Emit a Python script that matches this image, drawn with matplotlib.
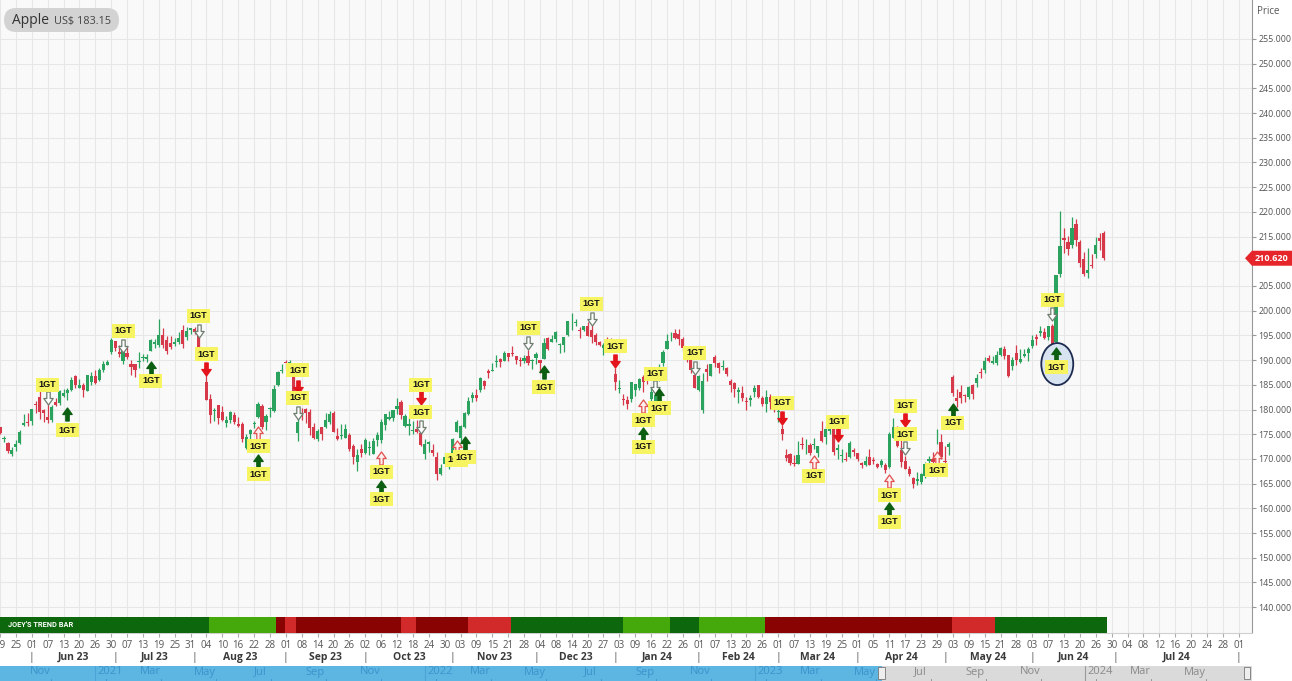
import matplotlib
matplotlib.use("Agg")
import matplotlib.pyplot as plt
import matplotlib.transforms as mtransforms
from matplotlib.patches import FancyBboxPatch, Ellipse, Rectangle, Polygon
from matplotlib.path import Path
from matplotlib.ticker import FuncFormatter
import numpy as np

plt.rcParams['font.family'] = ['Open Sans', 'DejaVu Sans']

# ---------------- data ----------------
ticker_name = "Apple"
ticker_quote = "US$ 183.15"
trend_title = "JOEY'S TREND BAR"

# daily OHLC, trading-day index 0 = 19 May 2023 ... 278 = 28 Jun 2024
opens = [
    176.39, 173.98, 173.13, 171.09, 172.41, 173.32, 176.96, 177.33, 177.70, 181.03,
    182.63, 179.97, 178.44, 177.90, 181.50, 181.27, 182.80, 183.37, 183.96, 186.73,
    184.41, 184.90, 183.74, 185.55, 186.83, 185.89, 187.93, 189.08, 191.63, 193.78,
    191.57, 189.84, 191.41, 189.26, 189.16, 189.68, 190.50, 190.23, 191.90, 193.35,
    193.10, 195.09, 194.10, 193.41, 193.33, 193.67, 196.02, 194.67, 196.06, 196.24,
    195.04, 191.57, 185.52, 182.13, 179.69, 180.87, 179.48, 177.32, 177.97, 178.88,
    177.13, 177.14, 172.30, 175.07, 177.06, 178.52, 180.67, 177.38, 180.09, 179.70,
    184.94, 187.84, 189.49, 188.28, 188.40, 175.18, 178.35, 180.07, 179.49, 176.51,
    174.00, 176.48, 176.48, 177.52, 179.26, 174.55, 174.67, 174.20, 174.82, 172.62,
    169.34, 172.02, 171.22, 172.26, 171.09, 173.79, 173.80, 176.81, 178.10, 178.20,
    180.07, 181.42, 176.75, 176.65, 175.58, 176.04, 175.31, 170.91, 173.05, 171.88,
    170.37, 166.91, 169.02, 169.35, 171.00, 175.52, 174.24, 176.38, 179.18, 182.35,
    182.96, 183.97, 185.82, 187.70, 187.85, 189.57, 190.25, 189.89, 191.41, 191.49,
    190.87, 189.92, 189.78, 190.90, 189.84, 190.33, 189.98, 190.21, 194.45, 193.63,
    194.20, 193.11, 193.08, 195.09, 198.02, 197.53, 196.09, 196.16, 196.90, 196.10,
    195.18, 193.61, 192.49, 194.14, 193.90, 187.15, 184.22, 182.15, 181.99, 182.09,
    183.92, 184.35, 186.54, 186.06, 182.16, 181.27, 186.09, 189.33, 192.30, 195.02,
    195.42, 195.22, 194.27, 192.01, 190.94, 187.04, 183.99, 179.86, 188.15, 186.86,
    190.64, 189.39, 188.65, 188.42, 185.77, 185.32, 183.55, 183.42, 181.79, 181.94,
    183.48, 185.01, 182.24, 181.10, 182.51, 181.27, 179.55, 176.15, 170.76, 171.06,
    169.15, 169.00, 172.94, 173.15, 172.77, 172.91, 171.17, 175.57, 174.34, 175.72,
    177.05, 171.76, 170.57, 170.00, 170.41, 171.75, 171.19, 169.08, 168.79, 170.29,
    169.59, 169.03, 168.70, 168.80, 168.34, 174.26, 175.36, 171.75, 169.61, 168.03,
    166.21, 165.52, 165.35, 166.54, 169.53, 169.88, 173.37, 173.33, 169.58, 172.51,
    186.65, 182.35, 183.45, 182.85, 182.56, 184.90, 185.44, 187.51, 187.91, 190.47,
    189.51, 189.33, 191.09, 192.27, 190.98, 188.82, 191.51, 189.61, 190.76, 191.44,
    192.90, 194.64, 195.40, 195.69, 194.65, 196.90, 193.65, 207.37, 214.74, 213.85,
    213.37, 217.59, 213.93, 210.39, 207.72, 209.15, 211.50, 214.69, 215.77,
]
highs = [
    176.39, 174.71, 173.38, 172.42, 173.90, 175.77, 178.99, 179.35, 180.12, 181.78,
    184.95, 180.12, 181.21, 180.84, 182.23, 183.89, 184.15, 184.39, 186.52, 186.99,
    186.10, 185.41, 187.05, 187.56, 188.05, 188.39, 189.90, 190.07, 194.48, 193.88,
    192.98, 192.02, 192.67, 189.99, 189.30, 191.70, 191.19, 191.18, 194.32, 194.33,
    198.23, 196.47, 194.97, 194.91, 194.44, 195.64, 197.20, 196.63, 196.49, 196.73,
    195.18, 192.37, 187.38, 183.13, 180.27, 180.93, 180.75, 178.62, 179.69, 179.48,
    178.54, 177.51, 175.10, 176.13, 177.68, 181.55, 181.10, 179.15, 180.59, 184.90,
    187.85, 189.12, 189.92, 189.98, 188.85, 178.21, 180.24, 180.30, 180.13, 177.30,
    176.10, 176.50, 179.38, 179.63, 179.70, 176.30, 177.08, 176.97, 175.20, 173.04,
    172.03, 173.07, 174.30, 173.63, 174.21, 175.45, 177.99, 179.05, 179.72, 179.85,
    182.34, 181.93, 179.08, 178.42, 177.58, 177.84, 175.42, 174.01, 173.67, 173.06,
    171.38, 168.96, 171.17, 170.90, 174.23, 177.78, 176.82, 179.43, 182.44, 183.45,
    184.12, 186.57, 186.03, 188.11, 189.50, 190.96, 190.38, 191.91, 191.52, 192.93,
    190.90, 190.67, 191.08, 192.09, 190.32, 191.56, 190.05, 194.40, 194.76, 195.00,
    195.99, 193.49, 194.72, 198.00, 199.62, 198.40, 196.63, 196.95, 197.68, 197.08,
    195.41, 193.89, 193.50, 194.66, 194.40, 188.44, 185.88, 183.09, 182.76, 185.60,
    185.15, 186.40, 187.05, 186.74, 184.26, 182.93, 189.14, 191.95, 195.33, 195.75,
    196.38, 196.27, 194.76, 192.20, 191.80, 187.10, 186.95, 187.33, 189.25, 189.31,
    191.05, 189.54, 189.99, 188.67, 186.21, 185.53, 184.49, 184.85, 182.43, 182.89,
    184.96, 185.04, 182.76, 183.92, 183.12, 182.57, 180.53, 176.90, 172.04, 171.24,
    170.73, 173.70, 174.38, 174.03, 173.19, 174.31, 172.62, 177.71, 176.61, 178.67,
    177.49, 173.05, 171.94, 171.42, 173.60, 172.23, 171.25, 169.34, 170.68, 171.92,
    170.39, 169.20, 170.08, 169.09, 175.46, 178.36, 176.63, 173.76, 170.65, 168.64,
    166.40, 167.26, 167.05, 169.30, 170.61, 171.34, 176.03, 174.99, 172.71, 173.42,
    187.00, 184.20, 184.90, 183.07, 184.66, 185.09, 187.10, 188.30, 190.65, 191.10,
    190.81, 191.92, 192.73, 192.82, 191.00, 190.58, 193.00, 192.25, 192.18, 192.57,
    194.99, 195.32, 196.90, 196.50, 196.94, 197.30, 207.16, 220.20, 216.75, 215.17,
    218.95, 218.63, 214.24, 211.89, 212.70, 211.38, 214.86, 215.74, 216.07,
]
lows = [
    174.94, 173.45, 171.28, 170.52, 171.69, 173.11, 176.57, 176.76, 176.93, 179.26,
    178.04, 177.43, 177.32, 177.46, 180.63, 180.97, 182.44, 182.02, 183.78, 184.27,
    184.41, 182.59, 183.67, 185.01, 185.23, 185.67, 187.60, 188.94, 191.26, 191.76,
    190.62, 189.20, 190.24, 187.04, 186.60, 188.47, 189.78, 189.63, 191.81, 192.42,
    192.65, 192.50, 191.23, 192.25, 192.92, 193.32, 192.55, 194.14, 195.26, 195.28,
    191.85, 190.69, 181.92, 177.35, 177.58, 177.01, 177.60, 176.55, 177.31, 177.05,
    176.50, 173.48, 171.96, 173.74, 176.25, 178.33, 176.01, 175.82, 178.55, 179.50,
    184.74, 187.48, 188.28, 187.61, 181.47, 173.54, 177.79, 177.34, 174.82, 173.98,
    173.58, 173.82, 176.17, 177.13, 175.40, 173.86, 174.05, 174.15, 171.66, 169.05,
    167.62, 170.34, 170.93, 170.82, 170.97, 172.68, 173.18, 175.80, 177.95, 177.60,
    179.04, 178.14, 176.51, 174.80, 175.11, 175.19, 172.64, 169.93, 171.45, 170.65,
    165.67, 166.83, 168.87, 167.90, 170.12, 175.46, 173.35, 176.21, 178.97, 181.59,
    181.81, 183.53, 184.21, 186.30, 187.78, 188.65, 188.57, 189.88, 189.74, 190.83,
    189.25, 188.90, 189.40, 188.97, 188.19, 189.23, 187.45, 190.18, 192.11, 193.59,
    193.67, 191.42, 191.72, 194.85, 196.16, 197.00, 194.39, 195.89, 194.83, 193.50,
    192.97, 192.83, 191.09, 193.17, 191.73, 183.89, 183.43, 180.88, 180.17, 181.50,
    182.73, 183.92, 183.62, 185.19, 180.93, 180.30, 185.83, 188.82, 192.26, 193.83,
    194.34, 193.11, 191.94, 189.58, 187.47, 184.35, 183.82, 179.25, 185.84, 186.77,
    188.61, 187.35, 188.00, 186.79, 183.51, 182.44, 181.35, 181.67, 180.00, 180.66,
    182.46, 182.23, 180.65, 179.56, 180.13, 179.53, 177.38, 173.79, 169.62, 168.68,
    168.49, 168.94, 172.05, 171.01, 170.76, 172.05, 170.29, 173.52, 173.03, 175.09,
    170.84, 170.06, 169.45, 169.58, 170.11, 170.51, 169.48, 168.23, 168.58, 168.82,
    168.95, 168.24, 168.35, 167.11, 168.16, 174.21, 172.50, 168.27, 168.00, 166.55,
    164.08, 164.77, 164.92, 166.21, 168.15, 169.18, 173.10, 170.00, 169.11, 170.89,
    182.66, 180.42, 181.32, 181.45, 182.11, 182.13, 184.62, 186.29, 187.37, 189.66,
    189.18, 189.01, 190.92, 190.27, 186.63, 188.04, 189.10, 189.51, 190.63, 189.91,
    192.52, 193.03, 194.87, 194.17, 194.14, 192.15, 193.63, 206.90, 211.60, 211.30,
    212.72, 213.00, 208.85, 207.11, 206.59, 208.61, 210.64, 212.35, 210.30,
]
closes = [
    175.16, 174.20, 171.56, 171.84, 172.99, 175.43, 177.30, 177.25, 180.09, 180.95,
    179.58, 179.21, 177.82, 180.57, 180.96, 183.79, 183.31, 183.95, 186.01, 184.92,
    185.01, 183.96, 187.00, 186.68, 185.27, 188.06, 189.25, 189.59, 193.97, 192.46,
    191.33, 191.81, 190.68, 188.61, 188.08, 189.77, 190.54, 190.69, 193.99, 193.73,
    195.10, 193.13, 191.94, 192.75, 193.62, 194.50, 193.22, 195.83, 196.45, 195.61,
    192.58, 191.17, 181.99, 178.85, 179.80, 178.19, 177.97, 177.79, 179.46, 177.45,
    176.57, 174.00, 174.49, 175.84, 177.23, 181.12, 176.38, 178.61, 180.19, 184.12,
    187.65, 187.87, 189.46, 189.70, 182.91, 177.56, 178.18, 179.36, 176.30, 174.21,
    175.74, 175.01, 177.97, 179.07, 175.49, 173.93, 174.79, 176.08, 171.96, 170.43,
    170.69, 171.21, 173.75, 172.40, 173.66, 174.91, 177.49, 178.99, 178.39, 179.80,
    180.71, 178.85, 178.72, 177.15, 175.84, 175.46, 172.88, 173.00, 173.44, 171.10,
    166.89, 168.22, 170.29, 170.77, 173.97, 177.57, 176.65, 179.23, 181.82, 182.89,
    182.41, 186.40, 184.80, 187.44, 188.01, 189.71, 189.69, 191.45, 190.64, 191.31,
    189.97, 189.79, 190.40, 189.37, 189.95, 191.24, 189.43, 193.42, 192.32, 194.27,
    195.71, 193.18, 194.71, 197.96, 198.11, 197.57, 195.89, 196.94, 194.83, 194.68,
    193.60, 193.05, 193.15, 193.58, 192.53, 185.64, 184.25, 181.91, 181.18, 185.56,
    185.14, 186.19, 185.59, 185.92, 183.63, 182.68, 188.63, 191.56, 193.89, 195.18,
    194.50, 194.17, 192.42, 191.73, 188.04, 184.40, 186.86, 185.85, 187.68, 189.30,
    189.41, 188.32, 188.85, 187.15, 185.04, 184.15, 183.86, 182.31, 181.56, 182.32,
    184.37, 182.52, 181.16, 182.63, 181.42, 180.75, 179.66, 175.10, 170.12, 169.12,
    169.00, 170.73, 172.75, 173.23, 171.13, 173.00, 172.62, 173.72, 176.08, 178.67,
    171.37, 172.28, 170.85, 169.71, 173.31, 171.48, 170.03, 168.84, 169.65, 168.82,
    169.58, 168.45, 169.67, 167.78, 175.04, 176.55, 172.69, 169.38, 168.00, 167.04,
    165.00, 165.84, 166.90, 169.02, 169.89, 169.30, 173.50, 170.33, 169.30, 173.03,
    183.38, 181.71, 182.40, 182.74, 184.57, 183.05, 186.28, 187.43, 189.72, 189.84,
    189.87, 191.04, 192.35, 190.90, 186.88, 189.98, 189.99, 190.29, 191.29, 192.25,
    194.03, 194.35, 195.87, 194.48, 196.89, 193.12, 207.15, 213.07, 214.24, 212.49,
    216.67, 214.29, 209.68, 207.49, 208.14, 209.07, 213.25, 214.10, 210.62,
]

# x-axis day labels, one every 4 trading days starting at index 0
tick_labels = ["19", "25", "01", "07", "13", "20", "26", "30", "07", "13", "19", "25", "31",
               "04", "10", "16", "22", "28", "01", "08", "14", "20", "26", "02", "06", "12",
               "18", "24", "30", "03", "09", "15", "21", "28", "04", "08", "14", "20", "27",
               "03", "09", "16", "22", "26", "01", "07", "13", "20", "26", "01", "07", "13",
               "19", "25", "01", "05", "11", "17", "23", "29", "03", "09", "15", "21", "28",
               "03", "07", "13", "20", "26", "30", "04", "08", "12", "16", "20", "24", "28", "01"]
month_names = ["Jun 23", "Jul 23", "Aug 23", "Sep 23", "Oct 23", "Nov 23", "Dec 23",
               "Jan 24", "Feb 24", "Mar 24", "Apr 24", "May 24", "Jun 24", "Jul 24"]
month_starts = [8, 29, 49, 72, 92, 114, 135, 155, 176, 196, 216, 238, 260, 281, 312]

# trend bar: segment edges (trading-day index) and state
trend_edges = [-2, 52.7, 69.6, 71.8, 74.6, 101.0, 104.8, 117.8, 128.7, 156.8,
               168.7, 176.0, 192.6, 239.9, 250.7, 278.8]
trend_states = ["strong_up", "up", "strong_down", "down", "strong_down", "down",
                "strong_down", "down", "strong_up", "up", "strong_up", "up",
                "strong_down", "down", "strong_up"]

# 1GT signals: (trading-day index, price level, kind)
signals = [
    (12, 184.96, "lbl"), (12, 182.33, "hdn"),
    (17, 179.09, "up"), (17, 175.85, "lbl"),
    (31, 195.89, "lbl"), (31, 192.85, "hdn"),
    (38, 188.40, "up"), (38, 185.77, "lbl"),
    (50, 198.93, "lbl"), (50, 195.89, "hdn"),
    (52, 191.23, "lbl"), (52, 188.20, "dn"),
    (65, 175.24, "hup"), (65, 172.61, "lbl"), (65, 169.57, "up"), (65, 166.94, "lbl"),
    (75, 187.99, "lbl"), (75, 184.55, "dn"), (75, 182.33, "lbl"), (75, 179.29, "hdn"),
    (96, 170.18, "hup"), (96, 167.35, "lbl"), (96, 164.31, "up"), (96, 161.88, "lbl"),
    (106, 184.96, "lbl"), (106, 182.33, "dn"), (106, 179.49, "lbl"), (106, 176.46, "hdn"),
    (115, 172.41, "hup"), (115, 169.78, "lbl"), (117, 173.22, "up"), (117, 170.38, "lbl"),
    (133, 196.50, "lbl"), (133, 193.46, "hdn"),
    (137, 187.59, "up"), (137, 184.55, "lbl"),
    (149, 201.36, "lbl"), (149, 198.32, "hdn"),
    (155, 192.85, "lbl"), (155, 189.82, "dn"),
    (162, 180.71, "hup"), (162, 177.87, "lbl"), (162, 175.04, "up"), (162, 172.41, "lbl"),
    (165, 187.19, "lbl"), (165, 184.55, "hdn"), (166, 182.94, "up"), (166, 180.30, "lbl"),
    (175, 191.44, "lbl"), (175, 188.40, "hdn"),
    (197, 181.32, "lbl"), (197, 178.28, "dn"),
    (205, 169.37, "hup"), (205, 166.54, "lbl"),
    (211, 177.47, "lbl"), (211, 174.84, "dn"),
    (224, 165.53, "hup"), (224, 162.69, "lbl"), (224, 159.86, "up"), (224, 157.23, "lbl"),
    (228, 180.71, "lbl"), (228, 177.87, "dn"), (228, 175.04, "lbl"), (228, 172.21, "hdn"),
    (236, 170.18, "hup"), (236, 167.75, "lbl"),
    (240, 179.90, "up"), (240, 177.27, "lbl"),
    (265, 202.17, "lbl"), (265, 199.33, "hdn"),
    (266, 191.23, "up"), (266, 188.60, "lbl"),
]
highlight_day, highlight_price = 266.3, 189.2

# navigator: month index counted from Jan 2021
nav_months = [-2, 0, 2, 4, 6, 8, 10, 12, 14, 16, 18, 20, 22, 24, 26, 28, 30, 32, 34, 36, 38, 40]
nav_labels = ["Nov", "2021", "Mar", "May", "Jul", "Sep", "Nov", "2022", "Mar", "May", "Jul",
              "Sep", "Nov", "2023", "Mar", "May", "Jul", "Sep", "Nov", "2024", "Mar", "May"]
nav_window_start = 28.6

# ---------------- style ----------------
W, H = 1292, 681
GREEN, RED = "#2ba35e", "#d63a4a"
TREND_COLORS = {"strong_up": "#0d670d", "up": "#46a90b", "strong_down": "#8a0303", "down": "#d22a2a"}

fig = plt.figure(figsize=(W / 100, H / 100), dpi=100, facecolor="white")
ax = fig.add_axes([0, 48 / H, 1252 / W, 633 / H])
ax.set_facecolor("#f9f9f9")

o = np.array(opens); h = np.array(highs); l = np.array(lows); c = np.array(closes)
n = len(c)
x = np.arange(n)
col = np.where(c >= o, GREEN, RED)
ax.vlines(x, l, h, colors=col, lw=0.9, zorder=2)
ax.bar(x, np.maximum(np.abs(c - o), 0.15), bottom=np.minimum(o, c), width=0.8,
       color=col, lw=0, zorder=2.1)

ax.set_xlim(1.5 / 3.975, 1253.5 / 3.975)
ax.set_ylim(134.76, 262.89)

ax.set_xticks([4 * i for i in range(len(tick_labels))])
ax.set_xticklabels(tick_labels)
ax.set_yticks(np.arange(140, 256, 5))
last = closes[-1]
ax.yaxis.set_major_formatter(FuncFormatter(lambda v, p: "" if abs(v - last) < 3 else f"{v:.3f}"))
ax.yaxis.tick_right()
ax.tick_params(axis="y", labelsize=6.4, labelcolor="#555555", length=3, color="#999999", pad=1.5)
ax.tick_params(axis="x", labelsize=7, labelcolor="#555555", length=3, color="#aaaaaa", pad=2)
ax.grid(True, color="#e7e7e7", lw=0.8)
ax.set_axisbelow(True)
for s in ["left", "top"]:
    ax.spines[s].set_visible(False)
ax.spines["right"].set_color("#999999")
ax.spines["bottom"].set_color("#d0d0d0")

# trend bar
bt = mtransforms.blended_transform_factory(ax.transData, ax.transAxes)
for i, st in enumerate(trend_states):
    ax.add_patch(Rectangle((trend_edges[i], 0), trend_edges[i + 1] - trend_edges[i], 0.0253,
                           transform=bt, fc=TREND_COLORS[st], ec="none", zorder=3))
ax.text(8 / 1252, 0.0126, trend_title, transform=ax.transAxes, color="white", fontsize=5.3,
        fontweight="bold", va="center", ha="left", family="Roboto", zorder=3.5)

# month row
for i, name in enumerate(month_names):
    ax.text((month_starts[i] + month_starts[i + 1]) / 2, -0.038, name, transform=bt,
            ha="center", va="center", fontsize=7.5, fontweight="bold", color="#3a3a3a",
            clip_on=False)
for d in month_starts:
    ax.text(d, -0.038, "|", transform=bt, ha="center", va="center", fontsize=7.5,
            color="#555555", clip_on=False)

# signals
up_path = Path([(-0.13, -0.5), (0.13, -0.5), (0.13, 0.0), (0.36, 0.0), (0, 0.5),
                (-0.36, 0.0), (-0.13, 0.0), (-0.13, -0.5)], closed=True)
dn_path = Path([(xx, -yy) for xx, yy in up_path.vertices], closed=True)
arrow_style = {
    "up": dict(marker=up_path, mfc="#0b5e12", mec="#0b5e12"),
    "dn": dict(marker=dn_path, mfc="#e3141b", mec="#e3141b"),
    "hdn": dict(marker=dn_path, mfc="#ffffff", mec="#6f7d6f"),
    "hup": dict(marker=up_path, mfc="#fff0f0", mec="#e0504f"),
}
ax.add_patch(Ellipse((highlight_day, highlight_price), 8.05, 8.5, fc="#d8e3f2",
                     ec="#1c2a4f", lw=1.3, zorder=4))
for d, p, k in signals:
    if k == "lbl":
        ax.text(d, p, "1GT", ha="center", va="center", fontsize=6.5, fontweight="bold",
                color="#111111", family="Liberation Sans", zorder=6,
                bbox=dict(boxstyle="square,pad=0.3", fc="#f7f462", ec="none"))
    else:
        ax.plot([d], [p], ls="none", ms=9.4, mew=0.9, zorder=5, **arrow_style[k])

# price axis title
fig.text(1257 / W, 1 - 11 / H, "Price", fontsize=7, color="#555555", ha="left", va="center")

# last price tag
yd = ax.transData.transform((0, last))[1]
fig.add_artist(Polygon([(1245, yd), (1252, yd + 7.5), (1292, yd + 7.5), (1292, yd - 7.5),
                        (1252, yd - 7.5)], closed=True, fc="#e5252a", ec="none",
                       transform=mtransforms.IdentityTransform(), zorder=10))
fig.text(1272 / W, yd / H, f"{last:.3f}", color="white", fontsize=6.6, fontweight="bold",
         ha="center", va="center", zorder=11)

# title badge
fig.add_artist(FancyBboxPatch((4, H - 32), 115, 24, boxstyle="round,pad=0,rounding_size=12",
                              fc="#d3d3d3", ec="none",
                              transform=mtransforms.IdentityTransform(), zorder=10))
fig.text(12 / W, 1 - 21 / H, ticker_name, fontsize=10, color="#333333", ha="left",
         va="center", zorder=11)
fig.text(54 / W, 1 - 21.5 / H, ticker_quote, fontsize=7.8, color="#444444", ha="left",
         va="center", zorder=11)

# navigator
nav = fig.add_axes([0, 0, 1252 / W, 15 / H])
x0n, x1n = -3.45, 42.07
nav.set_xlim(x0n, x1n)
nav.set_ylim(0, 1)
nav.axis("off")
nav.add_patch(Rectangle((x0n, 0), nav_window_start - x0n, 1, fc="#5db5e2", ec="none"))
nav.add_patch(Rectangle((nav_window_start, 0), x1n - nav_window_start, 1, fc="#dadada", ec="none"))
for m, lab in zip(nav_months, nav_labels):
    inside = m > nav_window_start
    tc = "#8a8a8a" if inside else "#3c93cc"
    if lab.isdigit():
        nav.plot([m, m], [0, 1], color="#9a9a9a" if inside else "#4ea3d6", lw=0.8)
        nav.text(m + 0.08, 0.6, lab, ha="left", va="center", fontsize=8, color=tc)
    else:
        nav.text(m, 0.6, lab, ha="center", va="center", fontsize=8, color=tc)
    nav.plot([m + 0.4, m + 0.4], [0, 0.12], color=tc, lw=0.6)
for hx in (nav_window_start, x1n - 0.18):
    nav.add_patch(Rectangle((hx - 0.12, 0.12), 0.24, 0.8, fc="#eeeeee", ec="#777777", lw=0.6))

fig.savefig("out.png", dpi=100, facecolor="white")
